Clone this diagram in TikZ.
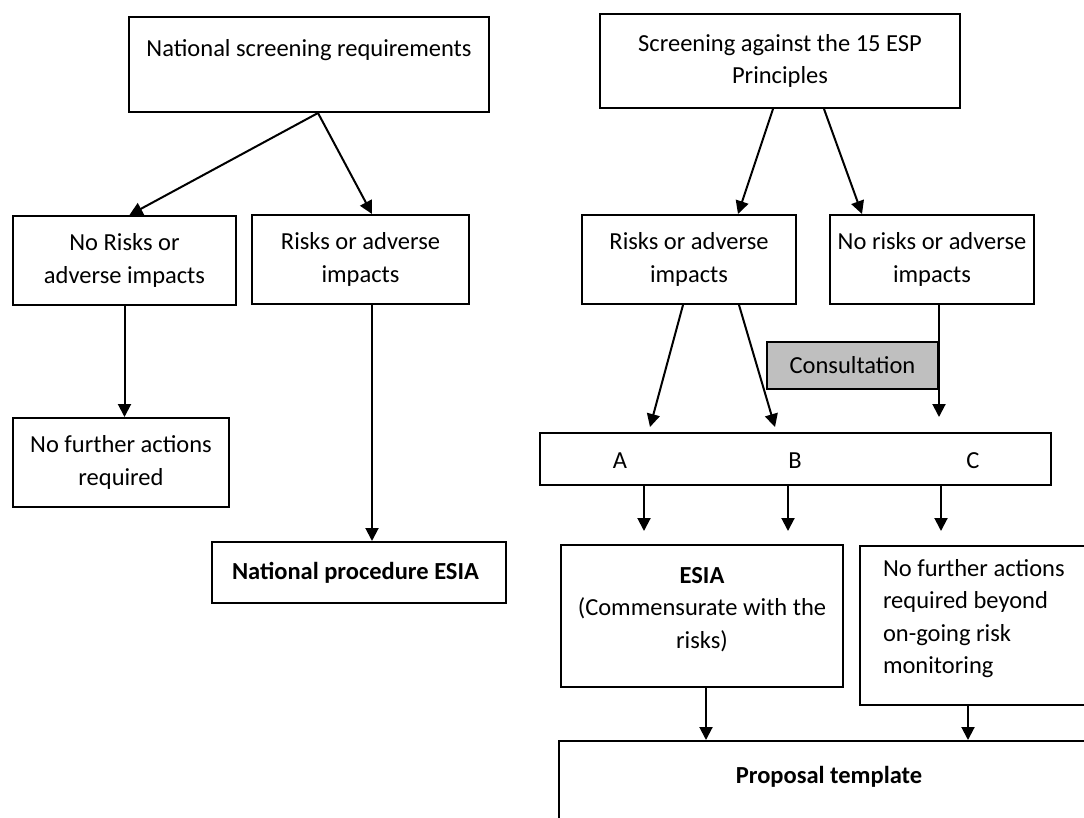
\documentclass[tikz,border=0pt]{standalone}
\usepackage{fontspec}
\setmainfont{Carlito}
\usepackage{tikz}
\usetikzlibrary{positioning,calc,arrows.meta}

\begin{document}
\begin{tikzpicture}[x=1pt,y=-1pt,
    every node/.style={font=\fontsize{24.5}{32.5}\selectfont},
    box/.style={draw, line width=2pt, align=center, inner sep=4pt},
    arr/.style={line width=2pt, -{Triangle[length=13pt,width=13pt]}}]
    \useasboundingbox (0,0) rectangle (1084,818);
    \clip (0,0) rectangle (1084,818);

    % National screening (left side)
    \node[box, minimum width=360, minimum height=95] (natScreen) at (309,64.5) {National screening requirements\\ ~};
    \node[box, minimum width=223, minimum height=89] (noRiskL) at (124.5,260.5) {No Risks or\\ adverse impacts};
    \node[box, minimum width=217, minimum height=89] (riskL) at (360.5,259.5) {Risks or adverse\\ impacts};
    \node[box, minimum width=216, minimum height=89] (furtherL) at (121,462.5) {No further actions\\ required};
    \node[box, align=flush left, text width=254, inner xsep=20, minimum height=61] (natESIA) at (359,572.5) {\textbf{National procedure ESIA}};

    \draw[arr] ($(natScreen.south)+(9,0)$) -- ($(noRiskL.north)+(5,0)$);
    \draw[arr] ($(natScreen.south)+(9,0)$) -- ($(riskL.north)+(11.5,0)$);
    \draw[arr] (noRiskL.south) -- (noRiskL.south |- furtherL.north);
    \draw[arr] ($(riskL.south)+(11.5,0)$) coordinate (rl) -- (rl |- natESIA.north);

    % ESP screening (right side)
    \node[box, minimum width=360, minimum height=94] (espScreen) at (780,61) {Screening against the 15 ESP\\ Principles};
    \node[box, minimum width=214, minimum height=89] (riskR) at (689,259.5) {Risks or adverse\\ impacts};
    \node[box, minimum width=204, minimum height=89] (noRiskR) at (932,259.5) {No risks or adverse\\ impacts};
    \node[box, fill=gray!50, minimum width=171, minimum height=47] (consult) at (852.5,365.5) {Consultation};

    % Categories
    \node[box, minimum width=511, minimum height=52] (abc) at (795.5,459) {};
    \node (catA) at (620,461) {A};
    \node (catB) at (795,461) {B};
    \node (catC) at (973,461) {C};

    \node[box, minimum width=282, minimum height=142] (esia) at (702,616) {\textbf{ESIA}\\ (Commensurate with the\\ risks)\\[-16pt] ~};
    \node[box, anchor=north west, align=flush left, text width=200, inner xsep=23, minimum height=159] (furtherR) at (859,545) {No further actions\\ required beyond\\ on-going risk\\ monitoring\\[-14pt] ~};
    \node[box, anchor=north west, minimum width=540, minimum height=100] (proposal) at (558,740) {\textbf{Proposal template}\\ ~};

    \coordinate (inA) at ($(abc.north)+(-145.5,-5)$);
    \coordinate (inB) at ($(abc.north)+(-20.5,-5)$);
    \coordinate (inC) at ($(abc.north)+(143.5,-15)$);
    \coordinate (outA) at ($(abc.south)+(-151.5,45)$);
    \coordinate (outB) at ($(abc.south)+(-7.5,45)$);
    \coordinate (outC) at ($(abc.south)+(145.5,45)$);

    \draw[arr] ($(espScreen.south)+(-7,0)$) -- ($(riskR.north)+(49,0)$);
    \draw[arr] ($(espScreen.south)+(44,0)$) -- ($(noRiskR.north)+(-70,0)$);
    \draw[arr] ($(riskR.south)+(-6,0)$) -- (inA);
    \draw[arr] ($(riskR.south)+(50,0)$) -- (inB);
    \draw[arr] (noRiskR.south -| inC) -- (inC);
    \draw[arr] (abc.south -| outA) -- (outA);
    \draw[arr] (abc.south -| outB) -- (outB);
    \draw[arr] (abc.south -| outC) -- (outC);
    \draw[arr] ($(esia.south)+(4,0)$) coordinate (es) -- (es |- proposal.north);
    \draw[arr] ($(furtherR.south)+(-15,0)$) coordinate (fr) -- (fr |- proposal.north);
\end{tikzpicture}
\end{document}
